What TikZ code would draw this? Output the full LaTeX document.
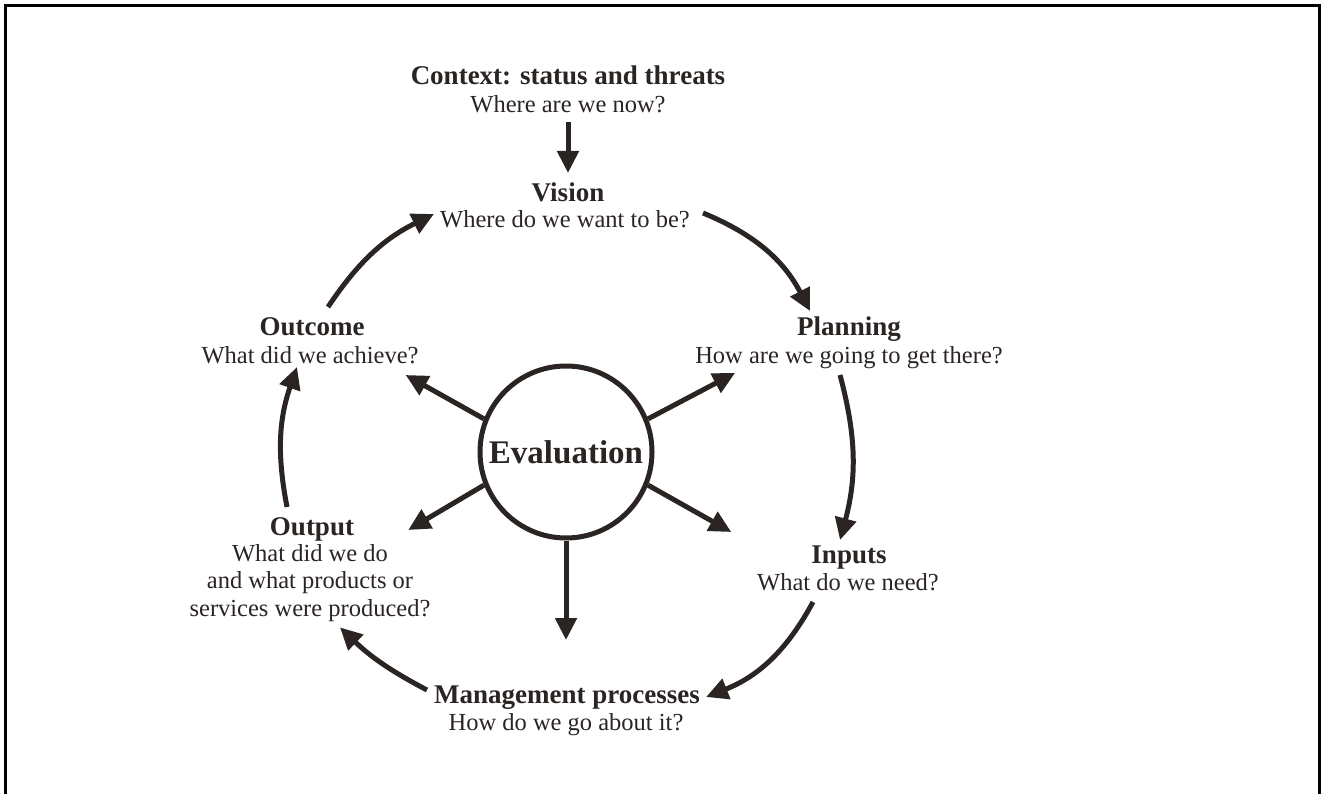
\documentclass[tikz,border=0pt]{standalone}
\usepackage{fontspec}
\setmainfont{Liberation Serif}
\usetikzlibrary{arrows.meta}
\definecolor{ink}{RGB}{42,36,34}

\begin{document}
\begin{tikzpicture}[x=1pt,y=-1pt,
	title/.style={inner sep=0pt,anchor=base,text=ink,font=\fontsize{27}{30}\selectfont\bfseries},
	question/.style={inner sep=0pt,anchor=base,text=ink,align=center,font=\fontsize{24.5}{27.3}\selectfont},
	cycle/.style={draw=ink,line width=5pt,-{Triangle[length=22pt,width=21pt]}},
	spoke/.style={cycle}]
	\useasboundingbox (0,0) rectangle (1321,794);
	\draw[line width=3pt] (5,794) -- (5,6) -- (1319,6) -- (1319,794);

	\node[title] (context) at (568,85) {Context: status and threats};
	\node[question] (contextq) at (568,113) {Where are we now?};
	\node[title] (vision) at (568,202) {Vision};
	\node[question] (visionq) at (565,228) {Where do we want to be?};
	\node[title] (planning) at (849,335) {Planning};
	\node[question] (planningq) at (849,363) {How are we going to get there?};
	\node[title] (inputs) at (849,563) {Inputs};
	\node[question] (inputsq) at (848,590) {What do we need?};
	\node[title] (mgmt) at (567,703) {Management processes};
	\node[question] (mgmtq) at (566,730) {How do we go about it?};
	\node[title] (output) at (312,535) {Output};
	\node[question] (outputq) at (310,616) {What did we do\\and what products or\\services were produced?};
	\node[title] (outcome) at (312,335) {Outcome};
	\node[question] (outcomeq) at (310,363) {What did we achieve?};
	\node[shape=circle,draw=ink,line width=5pt,minimum size=172pt,inner sep=0pt,text=ink,font=\fontsize{33}{36}\selectfont\bfseries] (eval) at (566,452) {Evaluation};

	\draw[cycle] ([shift={(0,9)}]contextq.base) -- ([shift={(0,-29)}]vision.base);
	\draw[cycle] ([shift={(16,-28)}]outcome.base) to[bend left=15] ([shift={(-6,-14)}]visionq.base west);
	\draw[cycle] ([shift={(13,-15)}]visionq.base east) to[bend left=20] ([shift={(13,-24)}]planning.base west);
	\draw[cycle] ([shift={(-9,12)}]planningq.base) to[bend left=15] ([shift={(-9,-23)}]inputs.base);
	\draw[cycle] ([shift={(-35,12)}]inputsq.base) to[bend left=20] ([shift={(6,-6)}]mgmt.base east);
	\draw[cycle] ([shift={(-7,-13)}]mgmt.base west) to[bend left=8] ([shift={(30,6)}]outputq.south);
	\draw[cycle] ([shift={(-25,-28)}]output.base) to[bend left=15] ([shift={(-13,4)}]outcomeq.base);

	\draw[spoke] (eval.158) -- ([shift={(-13,12)}]outcomeq.base east);
	\draw[spoke] (eval.202) -- ([shift={(54,-5)}]output.base east);
	\draw[spoke] (eval.south) -- ([shift={(-1,-63)}]mgmt.base);
	\draw[spoke] (eval.22) -- ([shift={(40,10)}]planningq.base west);
	\draw[spoke] (eval.-22) -- ([shift={(-80,-31)}]inputs.base west);
\end{tikzpicture}
\end{document}
